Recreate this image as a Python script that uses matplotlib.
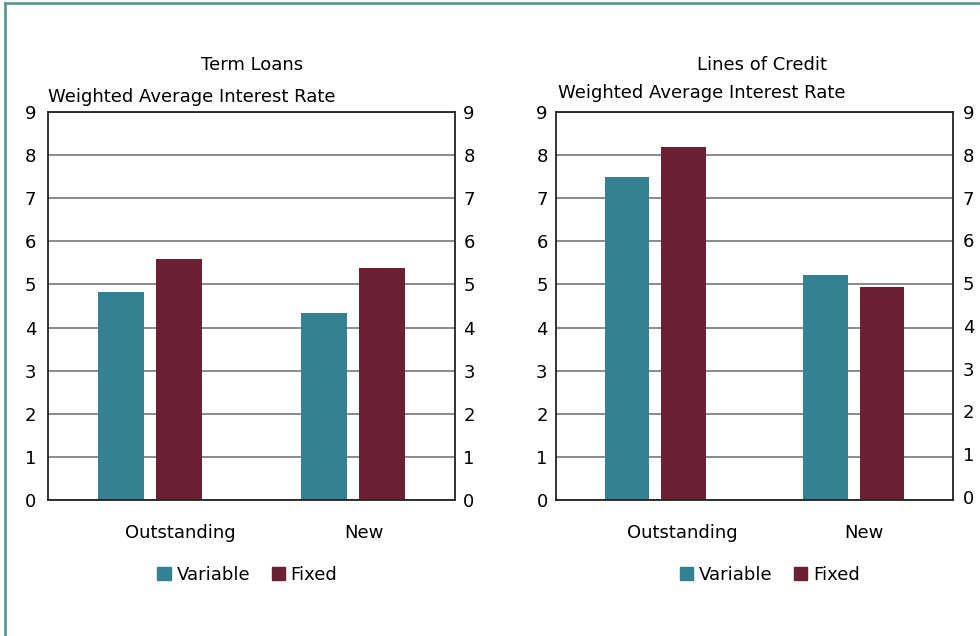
import matplotlib
matplotlib.use("Agg")
import matplotlib.pyplot as plt
from matplotlib.lines import Line2D
from matplotlib.patches import Patch
import numpy as np

categories = ["Outstanding", "New"]
term_variable = [4.83, 4.34]
term_fixed = [5.59, 5.38]
loc_variable = [7.49, 5.22]
loc_fixed = [8.19, 4.94]
yticks = list(range(0, 10))
series_names = ["Variable", "Fixed"]
panel_titles = ["Term Loans", "Lines of Credit"]
ylabel_text = "Weighted Average Interest Rate"

TEAL = "#348193"
MAROON = "#6d1f33"
plt.rcParams['font.family'] = ['DejaVu Sans']

W, H = 980, 636
fig = plt.figure(figsize=(W / 100, H / 100), dpi=100)

def ax_rect(x0, y0, x1, y1):
    return [x0 / W, 1 - y1 / H, (x1 - x0) / W, (y1 - y0) / H]

panels = [
    dict(rect=ax_rect(48, 112, 455, 500), var=term_variable, fix=term_fixed,
         tcx=252, tcy=65, subx=48, suby=97, padl=8.5, padr=6, legx=0.49,
         lab_shift=[0.15, 0.054], twin=None),
    dict(rect=ax_rect(556, 112, 953, 500), var=loc_variable, fix=loc_fixed,
         tcx=762, tcy=65, subx=558, suby=93, padl=6, padr=7, legx=0.538,
         lab_shift=[0.136, 0.05], twin=(-0.07, 8.91)),
]

x = np.arange(len(categories))
bw = 0.225
off = 0.143
FS = 13
for i, p in enumerate(panels):
    ax = fig.add_axes(p["rect"])
    ax.set_axisbelow(True)
    ax.bar(x - off, p["var"], bw, color=TEAL, zorder=2)
    ax.bar(x + off, p["fix"], bw, color=MAROON, zorder=2)
    ax.set_xlim(-0.5, 1.5)
    ax.set_ylim(0, 9)
    ax.set_yticks(yticks)
    ax.yaxis.grid(True, color="#777777", linewidth=1.2)
    ax.tick_params(axis="y", length=0, labelsize=FS, pad=p["padl"])
    if p["twin"] is None:
        ax2 = ax.secondary_yaxis("right")
        ax2.set_yticks(yticks)
        ax2.tick_params(length=0, labelsize=FS, pad=p["padr"])
        ax2.spines["right"].set_visible(False)
    else:
        ax2 = ax.twinx()
        ax2.set_ylim(*p["twin"])
        ax2.set_yticks(yticks)
        ax2.tick_params(axis="y", length=0, labelsize=FS, pad=p["padr"])
        for s in ax2.spines.values():
            s.set_visible(False)
    ax.set_xticks(x + np.array(p["lab_shift"]))
    ax.set_xticklabels(categories)
    ax.tick_params(axis="x", length=0, labelsize=FS, pad=17.5)
    for s in ax.spines.values():
        s.set_color("#222222")
        s.set_linewidth(1.3)
    fig.text(p["tcx"] / W, 1 - p["tcy"] / H, panel_titles[i], ha="center", va="center", fontsize=FS)
    fig.text(p["subx"] / W, 1 - p["suby"] / H, ylabel_text, ha="left", va="center", fontsize=FS)
    handles = [Patch(color=TEAL, label=series_names[0]),
               Patch(color=MAROON, label=series_names[1])]
    ax.legend(handles=handles, loc="upper center", bbox_to_anchor=(p["legx"], -0.128),
              ncol=2, frameon=False, fontsize=FS, handlelength=0.75,
              handleheight=0.75, handletextpad=0.3, columnspacing=1.2)

border = "#5a9a96"
fig.add_artist(Line2D([5 / W, 1], [1 - 3 / H, 1 - 3 / H], color=border, linewidth=2, transform=fig.transFigure))
fig.add_artist(Line2D([5 / W, 5 / W], [0, 1 - 3 / H], color=border, linewidth=2, transform=fig.transFigure))

fig.savefig("out.png", dpi=100)
